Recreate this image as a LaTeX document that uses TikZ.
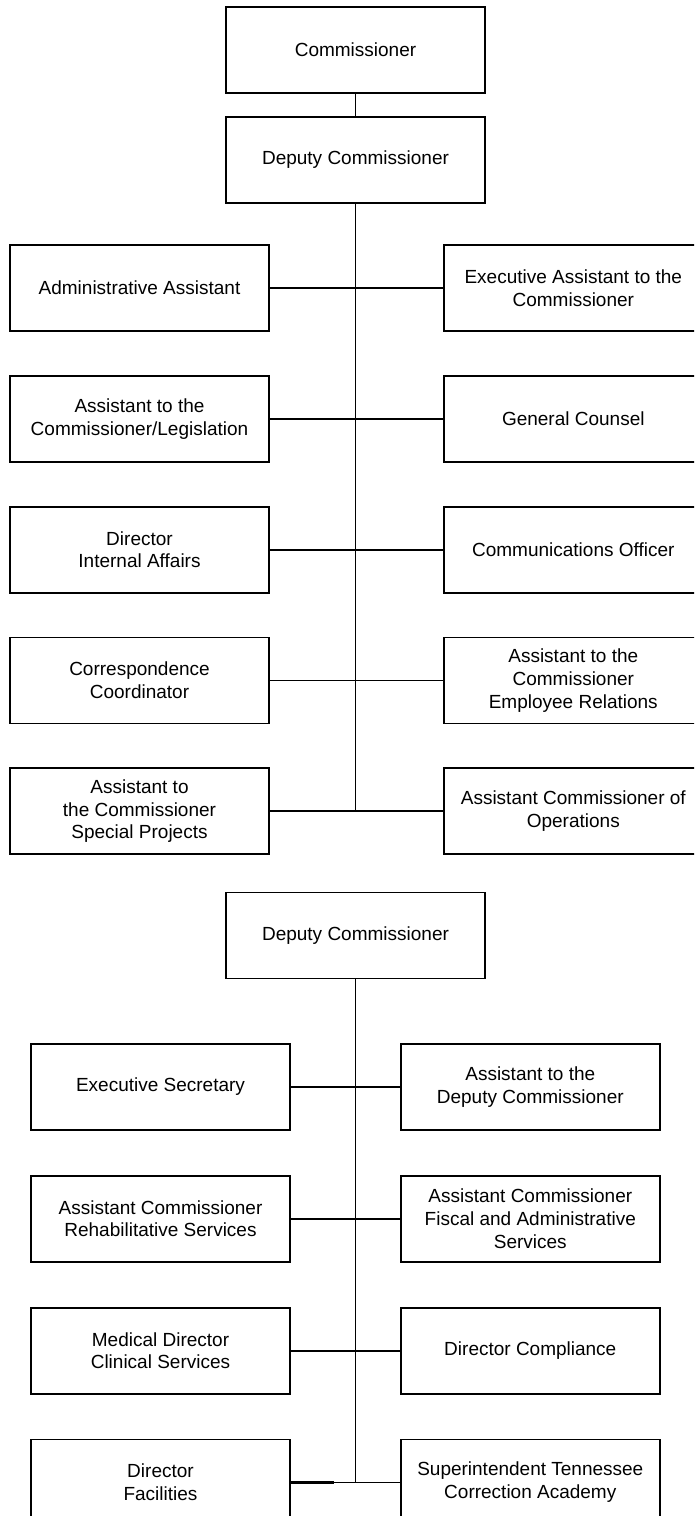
\documentclass[tikz,border=0pt]{standalone}
\usepackage{fontspec}
\setmainfont{Liberation Sans}
\usetikzlibrary{positioning}

\begin{document}
\begin{tikzpicture}[x=1pt,y=-1pt,line width=1.8pt,
  post/.style={draw,rectangle,minimum width=259pt,minimum height=86pt,
    inner sep=0pt,align=center,font=\fontsize{19}{22.7}\selectfont}]
  \useasboundingbox (0,0) rectangle (694,1516);
  \clip (0,0) rectangle (694,1516);

  \node[post] (com) at (355.5,50) {Commissioner};
  \node[post,below=22pt of com] (dep) {Deputy Commissioner};

  \node[post] (aa) at (139.5,288) {Administrative Assistant};
  \node[post,right=173pt of aa] (eac) {Executive Assistant to the\\Commissioner};
  \node[post,below=43pt of aa] (acl) {Assistant to the\\Commissioner/Legislation};
  \node[post,right=173pt of acl] (gc) {General Counsel};
  \node[post,below=43pt of acl] (dia) {Director\\Internal Affairs};
  \node[post,right=173pt of dia] (co) {Communications Officer};
  \node[post,below=43pt of dia] (cc) {Correspondence\\Coordinator};
  \node[post,right=173pt of cc] (acer) {Assistant to the\\Commissioner\\Employee Relations};
  \node[post,below=43pt of cc] (acsp) {Assistant to\\the Commissioner\\Special Projects};
  \node[post,right=173pt of acsp] (aco) {Assistant Commissioner of\\Operations};

  \path (com) edge (dep)
    (dep) edge (dep.south |- acsp.east)
    (aa) edge (eac)
    (acl) edge (gc)
    (dia) edge (co)
    (cc) edge (acer)
    (acsp) edge (aco);

  \node[post] (dep2) at (355.5,935.5) {Deputy Commissioner};

  \node[post] (es) at (160.5,1087) {Executive Secretary};
  \node[post,right=109pt of es] (adc) {Assistant to the\\Deputy Commissioner};
  \node[post,below=44pt of es] (acrs) {Assistant Commissioner\\Rehabilitative Services};
  \node[post,right=109pt of acrs] (acfa) {Assistant Commissioner\\Fiscal and Administrative\\Services};
  \node[post,below=44pt of acrs] (mdcs) {Medical Director\\Clinical Services};
  \node[post,right=109pt of mdcs] (dc) {Director Compliance};
  \node[post,below=44pt of mdcs] (df) {Director\\Facilities};
  \node[post,right=109pt of df] (stca) {Superintendent Tennessee\\Correction Academy};

  \path (dep2) edge (dep2.south |- df.east)
    (es) edge (adc)
    (acrs) edge (acfa)
    (mdcs) edge (dc)
    (df) edge (stca);
  \draw[line width=3pt] (df.east) -- ++(43,0);
\end{tikzpicture}
\end{document}
